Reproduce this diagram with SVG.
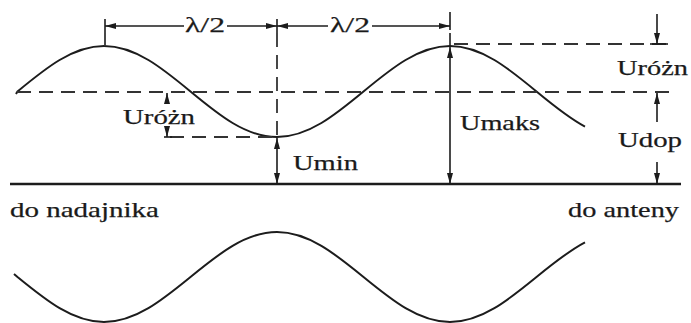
<svg xmlns="http://www.w3.org/2000/svg" width="691" height="323" viewBox="0 0 691 323">
  <style>
    .wave { fill: none; stroke: #1c1c1c; stroke-width: 2; }
    .ln { fill: none; stroke: #1c1c1c; stroke-width: 1.6; }
    .dash { fill: none; stroke: #333; stroke-width: 1.8; stroke-dasharray: 14 8; }
    .base { fill: none; stroke: #1c1c1c; stroke-width: 2.5; }
    .lbl { font-family: "Liberation Serif", "Times New Roman", serif; font-size: 22px; fill: #1a1a1a; stroke: #1a1a1a; stroke-width: 0.25; }
  </style>
  <defs>
    <marker id="ah" viewBox="0 0 11 6" refX="11" refY="3" markerWidth="11" markerHeight="6" markerUnits="userSpaceOnUse" orient="auto-start-reverse">
      <path d="M0,0 L11,3 L0,6 z" fill="#1c1c1c"/>
    </marker>
  </defs>

  <rect width="691" height="323" fill="#ffffff"/>

  <g id="wave-top">
    <path class="wave" d="M16,94 L17.5,91.5 c28.2,-23.31 55.2,-45.5 86.5,-45.5 c31.3,0 58.3,22.19 86.5,45.5 c28.2,23.31 55.2,45.5 86.5,45.5 c31.3,0 58.3,-22.19 86.5,-45.5 c28.2,-23.31 55.2,-45.5 86.5,-45.5 c31.3,0 58.3,22.19 86.5,45.5 c16.2,13.4 32.0,26.4 48.5,35.1"/>
  </g>
  <g id="wave-bottom">
    <path class="wave" d="M14,274 L17.5,277 c28.2,23.05 55.2,45 86.5,45 c31.3,0 58.3,-21.95 86.5,-45 c28.2,-23.05 55.2,-45 86.5,-45 c31.3,0 58.3,21.95 86.5,45 c28.2,23.05 55.2,45 86.5,45 c31.3,0 58.3,-21.95 86.5,-45 c16.2,-13.26 32.0,-26.1 48.5,-34.7"/>
  </g>
  <g id="baseline">
    <line class="base" x1="10" y1="184" x2="681" y2="184"/>
  </g>

  <g id="connectors">
    <line class="dash" x1="17" y1="92" x2="673" y2="92"/>
    <line class="dash" x1="454" y1="44" x2="673" y2="44"/>
    <line class="dash" x1="170" y1="137" x2="276" y2="137"/>
    <line class="dash" x1="105" y1="33" x2="105" y2="46"/>
    <line class="dash" x1="277" y1="33" x2="277" y2="136"/>

    <line class="ln" x1="105" y1="19" x2="105" y2="33"/>
    <line class="ln" x1="277" y1="19" x2="277" y2="33"/>
    <line class="ln" x1="450" y1="12" x2="450" y2="30"/>
    <line class="ln" x1="450" y1="33" x2="450" y2="46"/>

    <line class="ln" x1="105" y1="26" x2="184" y2="26" marker-start="url(#ah)"/>
    <line class="ln" x1="227" y1="26" x2="277" y2="26" marker-end="url(#ah)"/>
    <line class="ln" x1="277" y1="26" x2="328" y2="26" marker-start="url(#ah)"/>
    <line class="ln" x1="372" y1="26" x2="450" y2="26" marker-end="url(#ah)"/>

    <line class="ln" x1="277" y1="138" x2="277" y2="184" marker-start="url(#ah)" marker-end="url(#ah)"/>
    <line class="ln" x1="450" y1="47" x2="450" y2="184" marker-start="url(#ah)" marker-end="url(#ah)"/>

    <line class="ln" x1="167" y1="104" x2="167" y2="93" marker-end="url(#ah)"/>
    <line class="ln" x1="167" y1="127" x2="167" y2="137" marker-end="url(#ah)"/>
    <line class="ln" x1="164" y1="137" x2="172" y2="137"/>

    <line class="ln" x1="657" y1="14" x2="657" y2="44" marker-end="url(#ah)"/>
    <line class="ln" x1="650" y1="44" x2="668" y2="44"/>
    <line class="ln" x1="657" y1="122" x2="657" y2="93" marker-end="url(#ah)"/>
    <line class="ln" x1="657" y1="162" x2="657" y2="184" marker-end="url(#ah)"/>
  </g>

  <g id="labels">
    <text class="lbl" x="185" y="32" textLength="40" lengthAdjust="spacingAndGlyphs">λ/2</text>
    <text class="lbl" x="330" y="32" textLength="40" lengthAdjust="spacingAndGlyphs">λ/2</text>
    <text class="lbl" x="123" y="124" textLength="72" lengthAdjust="spacingAndGlyphs">Uróżn</text>
    <text class="lbl" x="293" y="170" textLength="65" lengthAdjust="spacingAndGlyphs">Umin</text>
    <text class="lbl" x="460" y="130" textLength="80" lengthAdjust="spacingAndGlyphs">Umaks</text>
    <text class="lbl" x="617" y="75" textLength="71" lengthAdjust="spacingAndGlyphs">Uróżn</text>
    <text class="lbl" x="618" y="147" textLength="64" lengthAdjust="spacingAndGlyphs">Udop</text>
    <text class="lbl" x="10" y="217" textLength="149" lengthAdjust="spacingAndGlyphs">do nadajnika</text>
    <text class="lbl" x="568" y="217" textLength="111" lengthAdjust="spacingAndGlyphs">do anteny</text>
  </g>
</svg>
